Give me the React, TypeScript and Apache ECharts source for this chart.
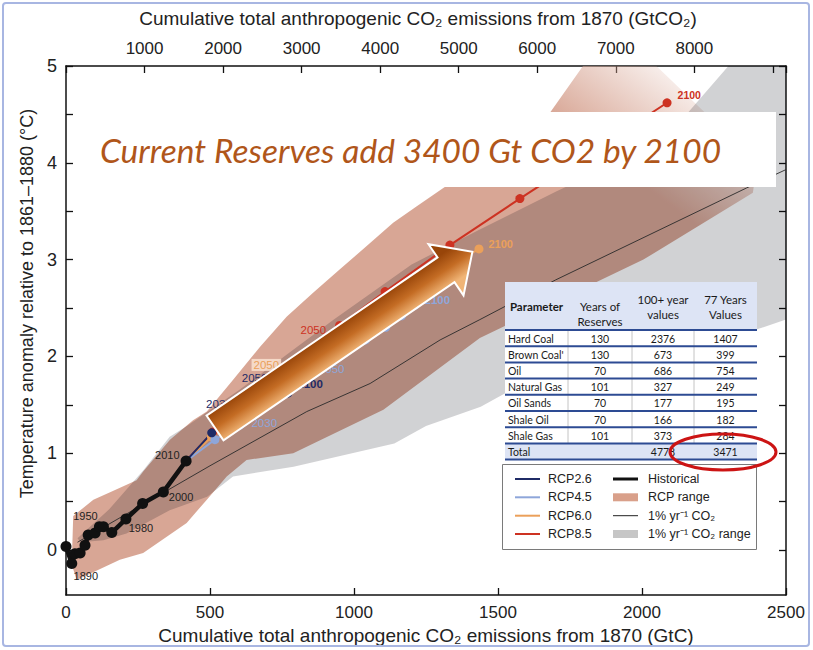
import React, { useEffect, useRef } from 'react';
import * as echarts from 'echarts';

// ---------- axes ----------
const gtcMax = 2500;
const gtcInterval = 500;
const gtco2PerGtc = 44 / 12;
const topTickLabels = [1000, 2000, 3000, 4000, 5000, 6000, 7000, 8000];
const tempMin = -0.465;
const tempMax = 5;
const tempTickValues = [0, 0.5, 1, 1.5, 2, 2.5, 3, 3.5, 4, 4.5, 5];
const tempLabelValues = [0, 1, 2, 3, 4, 5];

// ---------- historical ----------
const histYears = [1880, 1890, 1900, 1910, 1920, 1930, 1940, 1950, 1960, 1970, 1980, 1990, 2000, 2010];
const histEmissions = [0, 20, 31, 49, 66, 77, 101, 116, 130, 159, 208, 266, 338, 417];
const histTemp = [0.035, -0.14, -0.04, -0.03, 0.05, 0.155, 0.175, 0.24, 0.24, 0.18, 0.32, 0.48, 0.6, 0.92];

// ---------- RCP scenarios (decadal, 2010-2100) ----------
const rcpYears = [2010, 2020, 2030, 2040, 2050, 2060, 2070, 2080, 2090, 2100];
const rcp26Emissions = [417, 506, 590, 650, 700, 730, 750, 762, 768, 770];
const rcp26Temp = [0.92, 1.21, 1.38, 1.5, 1.58, 1.62, 1.64, 1.64, 1.63, 1.62];
const rcp45Emissions = [417, 517, 604, 720, 845, 950, 1040, 1110, 1165, 1212];
const rcp45Temp = [0.92, 1.14, 1.29, 1.55, 1.82, 2.0, 2.17, 2.3, 2.42, 2.53];
const rcp60Emissions = [417, 505, 590, 680, 780, 880, 1000, 1130, 1280, 1434];
const rcp60Temp = [0.92, 1.17, 1.33, 1.6, 1.85, 2.08, 2.32, 2.57, 2.84, 3.11];
const rcp85Emissions = [417, 510, 615, 760, 950, 1108, 1333, 1576, 1830, 2087];
const rcp85Temp = [0.92, 1.22, 1.47, 1.85, 2.32, 2.67, 3.15, 3.63, 4.12, 4.62];

// ---------- 1% per year CO2 ----------
const onePctEmissions = [40, 500, 836, 1056, 1299, 1437, 1700, 2363, 2500];
const onePctTemp = [0.08, 0.87, 1.43, 1.72, 2.17, 2.38, 2.79, 3.74, 3.93];

// ---------- ranges (outline: emissions, temperature) ----------
const rcpRangeOutline: [number, number][] = [
  [25, 0.35], [95, 0.52], [155, 0.6], [245, 0.72], [268, 0.81], [361, 1.14], [441, 1.34], [489, 1.43],
  [581, 1.76], [674, 2.1], [766, 2.41], [859, 2.66], [951, 2.9], [1044, 3.14], [1136, 3.38], [1218, 3.55],
  [1310, 3.74], [1500, 4.1], [1681, 4.52], [1795, 5.0], [2050, 5.0], [2400, 4.0], [2385, 3.69],
  [2005, 3.0], [1437, 2.19], [1102, 1.45], [859, 1.1], [789, 1.0], [627, 0.93], [558, 0.76], [489, 0.52],
  [419, 0.28], [268, -0.03], [187, -0.1], [37, -0.31], [20, -0.15],
];
const onePctRangeOutline: [number, number][] = [
  [40, 0.12], [150, 0.42], [270, 0.83], [360, 1.17], [420, 1.28], [600, 1.65], [930, 2.38], [1200, 2.95],
  [1430, 3.3], [1700, 3.7], [1950, 4.05], [2160, 4.52], [2300, 5.0], [2500, 5.0], [2500, 2.38], [2400, 2.28],
  [1525, 1.62], [1440, 1.48], [1250, 1.28], [1140, 1.1], [790, 0.86], [580, 0.76], [490, 0.55], [360, 0.41],
  [210, 0.17], [130, 0.1], [50, 0.08],
];

// ---------- table ----------
const tableHeader = ['Parameter', 'Years of\nReserves', '100+ year\nvalues', '77 Years\nValues'];
const tableParameters = ['Hard Coal', "Brown Coal'", 'Oil', 'Natural Gas', 'Oil Sands', 'Shale Oil', 'Shale Gas'];
const tableYearsOfReserves = [130, 130, 70, 101, 70, 70, 101];
const table100YearValues = [2376, 673, 686, 327, 177, 166, 373];
const table77YearValues = [1407, 399, 754, 249, 195, 182, 284];
const tableTotalLabel = 'Total';
const tableTotals = ['', '4778', '3471'];

// ---------- legend / texts ----------
const legendLeft = ['RCP2.6', 'RCP4.5', 'RCP6.0', 'RCP8.5'];
const legendRight = ['Historical', 'RCP range', '1% yr⁻¹ CO₂', '1% yr⁻¹ CO₂ range'];
const headline = 'Current Reserves add 3400 Gt CO2 by 2100';
const bottomTitle = 'Cumulative total anthropogenic CO₂ emissions from 1870 (GtC)';
const topTitle = 'Cumulative total anthropogenic CO₂ emissions from 1870 (GtCO₂)';
const leftTitle = 'Temperature anomaly relative to 1861–1880 (°C)';

const C_RCP26 = '#1f2b66';
const C_RCP45 = '#8ea6da';
const C_RCP60 = '#eba05a';
const C_RCP85 = '#cd3222';
const AX = "'Liberation Sans', Arial, sans-serif";
const TB = "Lato, 'Open Sans', sans-serif";

function pts(xs: number[], ys: number[], labels: Record<number, any> = {}, years?: number[]) {
  return xs.map((x, i) =>
    labels[i]
      ? {
          value: [x, ys[i]],
          label: { show: true, formatter: String(years ? years[i] : ''), fontFamily: AX, fontSize: 11, ...labels[i] },
        }
      : [x, ys[i]]
  );
}

function areaSeries(name: string, outline: [number, number][], style: any) {
  return {
    type: 'custom',
    name,
    silent: true,
    clip: true,
    data: outline,
    encode: { x: 0, y: 1 },
    renderItem: (params: any, api: any) => {
      if (params.dataIndex !== 0) return null;
      const p = outline.map((o) => api.coord(o));
      return { type: 'polygon', shape: { points: p }, style };
    },
  };
}

function rcpSeries(name: string, xs: number[], ys: number[], color: string, labels: Record<number, any>) {
  return {
    type: 'line',
    name,
    data: pts(xs, ys, labels, rcpYears),
    symbol: 'circle',
    symbolSize: 9,
    showSymbol: true,
    lineStyle: { color, width: 2 },
    itemStyle: { color },
    label: { show: false },
  };
}

function buildGraphics() {
  const g: any[] = [];
  // arrow
  const arrowPts = [[0, -15], [280, -15], [280, -31], [312, 0], [280, 31], [280, 15], [0, 15]];
  g.push({
    type: 'polygon', x: 215, y: 428, rotation: 0.6, z: 110, silent: true,
    shape: { points: arrowPts },
    style: {
      fill: new echarts.graphic.LinearGradient(0, 0, 0, 1, [
        { offset: 0.25, color: '#984509' },
        { offset: 0.5, color: '#c46c24' },
        { offset: 0.75, color: '#f0b476' },
      ]),
      stroke: '#ffffff', lineWidth: 2,
    },
  });
  // headline box
  g.push({ type: 'rect', z: 120, silent: true, shape: { x: 92, y: 112, width: 684, height: 75 }, style: { fill: '#ffffff' } });
  g.push({
    type: 'text', z: 121, silent: true, x: 100, y: 150,
    style: { text: headline, fontSize: 33.5, fontStyle: 'italic', fontFamily: TB, fill: '#b0561a', align: 'left', verticalAlign: 'middle' },
  });
  // table
  const cols = [505, 568, 632, 694, 757];
  const rowLines = [330, 346.2, 362.4, 378.6, 394.8, 411, 427.2, 443.4, 459.6];
  const headTop = 282;
  const tw = cols[4] - cols[0];
  g.push({ type: 'rect', z: 130, silent: true, shape: { x: cols[0], y: headTop, width: tw, height: rowLines[0] - headTop }, style: { fill: '#dde4f5' } });
  g.push({ type: 'rect', z: 130, silent: true, shape: { x: cols[0], y: rowLines[0], width: tw, height: rowLines[7] - rowLines[0] }, style: { fill: '#ffffff' } });
  g.push({ type: 'rect', z: 130, silent: true, shape: { x: cols[0], y: rowLines[7], width: tw, height: rowLines[8] - rowLines[7] }, style: { fill: '#dde4f5' } });
  for (let c = 1; c < 4; c++) {
    g.push({ type: 'line', z: 131, silent: true, shape: { x1: cols[c], y1: rowLines[0], x2: cols[c], y2: rowLines[7] }, style: { stroke: '#c4c4c4', lineWidth: 1 } });
  }
  rowLines.forEach((y) => {
    g.push({ type: 'line', z: 132, silent: true, shape: { x1: cols[0], y1: y, x2: cols[4], y2: y }, style: { stroke: '#2d4b93', lineWidth: 2 } });
  });
  const tstyle = (text: string, extra: any = {}) => ({ text, fontSize: 10.5, fontFamily: TB, fill: '#1a1a1a', align: 'center', verticalAlign: 'middle', ...extra });
  const headY = [306.5, 314, 306.5, 306.5];
  tableHeader.forEach((h, c) => {
    g.push({
      type: 'text', z: 133, silent: true, x: (cols[c] + cols[c + 1]) / 2, y: headY[c],
      style: tstyle(h, { fontWeight: c === 0 ? 'bold' : 'normal', lineHeight: 15, fontSize: 11.5 }),
    });
  });
  tableParameters.forEach((p, r) => {
    const y = (rowLines[r] + rowLines[r + 1]) / 2 + 0.5;
    g.push({ type: 'text', z: 133, silent: true, x: cols[0] + 3, y, style: tstyle(p, { align: 'left' }) });
    [tableYearsOfReserves[r], table100YearValues[r], table77YearValues[r]].forEach((v, c) => {
      g.push({ type: 'text', z: 133, silent: true, x: (cols[c + 1] + cols[c + 2]) / 2, y, style: tstyle(String(v)) });
    });
  });
  const ty = (rowLines[7] + rowLines[8]) / 2 + 0.5;
  g.push({ type: 'text', z: 133, silent: true, x: cols[0] + 3, y: ty, style: tstyle(tableTotalLabel, { align: 'left' }) });
  tableTotals.forEach((v, c) => {
    if (v) g.push({ type: 'text', z: 133, silent: true, x: (cols[c + 1] + cols[c + 2]) / 2, y: ty, style: tstyle(v) });
  });
  // legend box
  g.push({ type: 'rect', z: 140, silent: true, shape: { x: 502.5, y: 464.5, width: 254, height: 85 }, style: { fill: '#ffffff', stroke: '#7a7a7a', lineWidth: 1 } });
  const ly = [479, 497.3, 515.7, 534];
  const leftColors = [C_RCP26, C_RCP45, C_RCP60, C_RCP85];
  legendLeft.forEach((t, i) => {
    g.push({ type: 'line', z: 141, silent: true, shape: { x1: 515, y1: ly[i], x2: 540, y2: ly[i] }, style: { stroke: leftColors[i], lineWidth: 2 } });
    g.push({ type: 'text', z: 141, silent: true, x: 548, y: ly[i], style: { text: t, fontSize: 12.5, fontFamily: AX, fill: '#222', verticalAlign: 'middle' } });
  });
  g.push({ type: 'line', z: 141, silent: true, shape: { x1: 613, y1: ly[0], x2: 638, y2: ly[0] }, style: { stroke: '#111', lineWidth: 3 } });
  g.push({ type: 'rect', z: 141, silent: true, shape: { x: 613, y: ly[1] - 4, width: 25, height: 8 }, style: { fill: '#d9a08a' } });
  g.push({ type: 'line', z: 141, silent: true, shape: { x1: 613, y1: ly[2], x2: 638, y2: ly[2] }, style: { stroke: '#222', lineWidth: 1 } });
  g.push({ type: 'rect', z: 141, silent: true, shape: { x: 613, y: ly[3] - 4, width: 25, height: 8 }, style: { fill: '#c6c6c6' } });
  legendRight.forEach((t, i) => {
    g.push({ type: 'text', z: 141, silent: true, x: 648, y: ly[i], style: { text: t, fontSize: 12.5, fontFamily: AX, fill: '#222', verticalAlign: 'middle' } });
  });
  // red ellipse
  g.push({ type: 'ellipse', z: 150, silent: true, shape: { cx: 723, cy: 452, rx: 53, ry: 18 }, style: { fill: 'transparent', stroke: '#cc1414', lineWidth: 3 } });
  // frame
  g.push({ type: 'rect', z: 200, silent: true, shape: { x: 3, y: 3, width: 806, height: 643, r: 3 }, style: { fill: 'transparent', stroke: '#a8b6e2', lineWidth: 2 } });
  return g;
}

function buildOption() {
  const axisLineStyle = { color: '#111', width: 1.5 };
  const tickStyle = { color: '#111', width: 1.3 };
  return {
    animation: false,
    backgroundColor: '#ffffff',
    grid: { left: 66, right: 27, top: 66, bottom: 55, containLabel: false },
    xAxis: [
      {
        type: 'value', position: 'bottom', min: 0, max: gtcMax, interval: gtcInterval,
        axisLine: { show: true, onZero: false, lineStyle: axisLineStyle },
        axisTick: { show: true, inside: true, length: 7, lineStyle: tickStyle },
        axisLabel: { fontSize: 17, color: '#222', margin: 9, fontFamily: AX, formatter: (v: number) => String(v) },
        splitLine: { show: false },
        name: bottomTitle, nameLocation: 'middle', nameGap: 29,
        nameTextStyle: { fontSize: 19, color: '#222', fontFamily: AX },
      },
      {
        type: 'value', position: 'top', min: 0, max: gtcMax * gtco2PerGtc, interval: 1000,
        axisLine: { show: true, onZero: false, lineStyle: axisLineStyle },
        axisTick: { show: true, inside: true, length: 7, lineStyle: tickStyle },
        axisLabel: {
          fontSize: 17, color: '#222', margin: 9, fontFamily: AX,
          formatter: (v: number) => (topTickLabels.indexOf(Math.round(v)) >= 0 ? String(Math.round(v)) : ''),
        },
        splitLine: { show: false },
        name: topTitle, nameLocation: 'middle', nameGap: 38,
        nameTextStyle: { fontSize: 19, color: '#222', fontFamily: AX, padding: [0, 16, 0, 0] },
      },
    ],
    yAxis: [
      {
        type: 'value', position: 'left', min: tempMin, max: tempMax,
        axisLine: { show: true, onZero: false, lineStyle: axisLineStyle },
        axisTick: { show: true, inside: true, length: 7, lineStyle: tickStyle, customValues: tempTickValues },
        axisLabel: { fontSize: 18, color: '#222', margin: 9, fontFamily: AX, customValues: tempLabelValues },
        splitLine: { show: false },
        name: leftTitle, nameLocation: 'middle', nameGap: 29,
        nameTextStyle: { fontSize: 18, color: '#222', fontFamily: AX, padding: [0, 0, 0, 54] },
      },
      {
        type: 'value', position: 'right', min: tempMin, max: tempMax,
        axisLine: { show: true, onZero: false, lineStyle: axisLineStyle },
        axisTick: { show: true, inside: true, length: 7, lineStyle: tickStyle, customValues: tempTickValues },
        axisLabel: { show: false },
        splitLine: { show: false },
      },
    ],
    series: [
      areaSeries('RCP range', rcpRangeOutline, {
        fill: new echarts.graphic.LinearGradient(0.6, 0.3, 0.9, 0.0, [
          { offset: 0, color: 'rgba(216,166,149,1)' },
          { offset: 0.5, color: 'rgba(216,166,149,1)' },
          { offset: 1, color: 'rgba(216,166,149,0.05)' },
        ]),
      }),
      areaSeries('1% yr-1 CO2 range', onePctRangeOutline, { fill: 'rgba(0,5,16,0.18)' }),
      {
        type: 'line', name: '1% yr-1 CO2', data: pts(onePctEmissions, onePctTemp), showSymbol: false,
        lineStyle: { color: '#2a2a2a', width: 0.9 }, itemStyle: { color: '#2a2a2a' },
      },
      rcpSeries('RCP8.5', rcp85Emissions, rcp85Temp, C_RCP85, {
        4: { position: 'left', offset: [-4, 5], color: C_RCP85, fontSize: 11.5 },
        9: { position: 'right', offset: [1, -8], color: C_RCP85, fontWeight: 'bold', fontSize: 10.5 },
      }),
      rcpSeries('RCP6.0', rcp60Emissions, rcp60Temp, C_RCP60, {
        4: { position: 'left', offset: [0, -6], color: C_RCP60, fontSize: 11.5, backgroundColor: 'rgba(252,230,212,0.8)', padding: [0, 2] },
        9: { position: 'right', offset: [0, -5], color: C_RCP60, fontWeight: 'bold', fontSize: 11 },
      }),
      rcpSeries('RCP4.5', rcp45Emissions, rcp45Temp, C_RCP45, {
        2: { position: 'right', offset: [2, -2], color: C_RCP45, fontSize: 11.5 },
        4: { position: 'right', offset: [0, -5], color: C_RCP45, fontSize: 11.5 },
        9: { position: 'right', offset: [0, -5], color: C_RCP45, fontWeight: 'bold', fontSize: 11.5 },
      }),
      rcpSeries('RCP2.6', rcp26Emissions, rcp26Temp, C_RCP26, {
        2: { position: 'top', offset: [-17, 3], color: C_RCP26, fontSize: 11.5 },
        4: { position: 'top', offset: [-13, -4], color: C_RCP26, fontSize: 11.5 },
        9: { position: 'right', offset: [0, -9], color: C_RCP26, fontWeight: 'bold', fontSize: 11.5 },
      }),
      {
        type: 'line', name: 'Historical',
        data: pts(histEmissions, histTemp, {
          1: { position: 'bottom', offset: [14, -4], color: '#222' },
          7: { position: 'top', offset: [-14, 5], color: '#222' },
          10: { position: 'bottom', offset: [15, -7], color: '#222' },
          12: { position: 'right', offset: [-5, 5], color: '#222' },
          13: { position: 'left', offset: [4, -6], color: '#222' },
        }, histYears),
        symbol: 'circle', symbolSize: 11, showSymbol: true,
        lineStyle: { color: '#111', width: 4.5 }, itemStyle: { color: '#111' },
        label: { show: false },
      },
    ],
    graphic: { elements: buildGraphics() },
  };
}

export default function App() {
  const ref = useRef<HTMLDivElement>(null);
  useEffect(() => {
    document.body.style.margin = '0';
    const chart = echarts.init(ref.current as HTMLDivElement, null, { renderer: 'svg' });
    chart.setOption(buildOption() as any);
    return () => chart.dispose();
  }, []);
  return <div ref={ref} style={{ width: 813, height: 650 }} />;
}
